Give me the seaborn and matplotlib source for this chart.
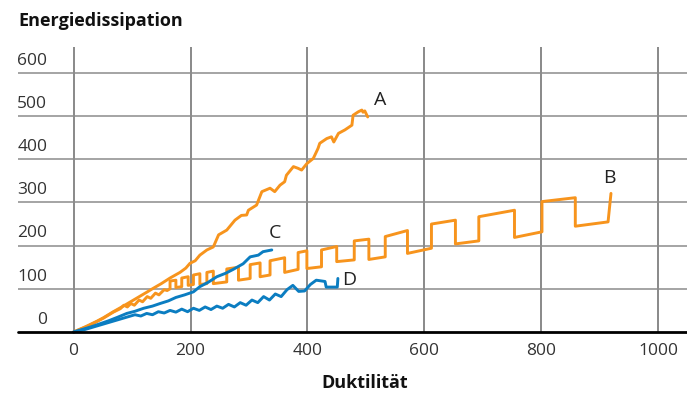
import matplotlib
matplotlib.use("Agg")
import matplotlib.pyplot as plt
import seaborn as sns
import pandas as pd

# ---- data ----
a_x = [0, 20, 40, 51, 68, 85, 100, 110, 125, 136, 150, 165, 182, 192, 199, 208, 216, 228, 239, 248, 262,
       276, 287, 296, 299, 313, 322, 336, 344, 353, 361, 364, 376, 384, 390, 399, 410, 418, 421, 433,
       441, 445, 453, 464, 476, 478, 487, 493, 495, 498, 503]
a_y = [0, 12, 25, 33, 47, 60, 72, 80, 92, 101, 112, 125, 138, 148, 159, 165, 178, 190, 197, 225, 236,
       259, 270, 271, 282, 294, 325, 333, 325, 340, 348, 363, 383, 379, 375, 390, 402, 425, 437, 448,
       452, 440, 460, 468, 479, 502, 510, 514, 509, 512, 498]

b_x = [0, 25, 51, 68, 80, 86, 92, 98, 104, 112, 118, 126, 132, 140, 146, 155, 160,
       165, 165, 175, 175, 185, 185, 196, 196, 205, 205, 216, 216, 228, 228, 239, 239, 262, 262,
       282, 282, 302, 302, 319, 319, 336, 336, 361, 361, 384, 384, 399, 399, 424, 424, 450, 450,
       480, 480, 505, 505, 533, 533, 571, 571, 612, 612, 653, 653, 693, 693, 754, 754, 801, 801,
       858, 858, 914, 919]
b_y = [0, 14, 32, 46, 54, 62, 58, 66, 62, 74, 70, 82, 78, 90, 86, 98, 96,
       100, 118, 120, 103, 105, 125, 128, 108, 110, 132, 135, 110, 112, 138, 141, 112, 116, 146,
       150, 120, 124, 156, 160, 128, 132, 165, 172, 138, 145, 184, 188, 147, 151, 190, 198, 163,
       167, 211, 215, 168, 174, 221, 235, 182, 194, 250, 259, 204, 211, 267, 282, 219, 232, 302,
       311, 245, 255, 321]

c_x = [0, 15, 30, 45, 60, 75, 91, 105, 120, 135, 148, 162, 175, 190, 205, 216, 230, 245, 260, 273,
       290, 302, 316, 324, 339]
c_y = [0, 6, 12, 19, 26, 34, 43, 48, 55, 60, 66, 72, 80, 86, 93, 105, 115, 128, 136, 145,
       158, 174, 178, 186, 190]

d_x = [0, 20, 40, 60, 80, 95, 105, 115, 125, 135, 145, 155, 165, 175, 185, 195, 205, 215, 225,
       235, 245, 255, 265, 275, 285, 295, 305, 315, 325, 335, 345, 355, 365, 375, 385, 395, 405,
       415, 430, 432, 451, 452]
d_y = [0, 6, 14, 22, 30, 36, 40, 37, 43, 40, 47, 44, 50, 46, 53, 47, 55, 50, 58,
       52, 60, 55, 64, 58, 68, 62, 74, 68, 82, 74, 88, 82, 98, 108, 94, 95, 110,
       120, 117, 104, 104, 124]

series_labels = ["A", "B", "C", "D"]
label_x = [524, 917, 344, 471]
label_y = [537, 356, 229, 120]

x_ticks = [0, 200, 400, 600, 800, 1000]
y_ticks = [0, 100, 200, 300, 400, 500, 600]

title_text = "Energiedissipation"
xlabel_text = "Duktilität"

ORANGE = "#F7941D"
BLUE = "#0B7DC1"

# ---- build table ----
frames = []
for name, xs, ys in [("A", a_x, a_y), ("B", b_x, b_y), ("C", c_x, c_y), ("D", d_x, d_y)]:
    frames.append(pd.DataFrame({"series": name, "x": xs, "y": ys}))
df = pd.concat(frames, ignore_index=True)

sns.set_theme(style="white")
plt.rcParams["font.family"] = ["Open Sans", "DejaVu Sans"]

fig = plt.figure(figsize=(6.87, 3.96), dpi=100)
ax = fig.add_axes([18 / 687, 1 - 332 / 396, 1 - 18 / 687, (332 - 47) / 396])

palette = {"A": ORANGE, "B": ORANGE, "C": BLUE, "D": BLUE}
sns.lineplot(data=df, x="x", y="y", hue="series", palette=palette, sort=False,
             estimator=None, legend=False, linewidth=2.1, ax=ax, zorder=3)
for line in ax.get_lines():
    line.set_clip_on(False)
    line.set_solid_joinstyle("round")

ax.set_xlim(-95, 1049)
ax.set_ylim(0, 660)

for s in ax.spines.values():
    s.set_visible(False)

ax.set_xticks(x_ticks)
ax.set_xticklabels([str(v) for v in x_ticks], fontsize=12.5, color="#333333")
ax.set_yticks(y_ticks)
ax.set_yticklabels([])
ax.tick_params(axis="both", length=0)
ax.tick_params(axis="x", pad=8)

ax.grid(False)
for v in x_ticks:
    ax.axvline(v, color="#6a6a6a", linewidth=1.1, zorder=1)
for v in y_ticks[1:]:
    ax.axhline(v, color="#8c8c8c", linewidth=1.1, zorder=1)
ax.axhline(0, color="black", linewidth=2.0, zorder=4, clip_on=False)

for v in y_ticks:
    ax.annotate(str(v), xy=(-45, v), xytext=(0, 3), textcoords="offset points",
                ha="right", va="bottom", fontsize=12.5, color="#333333")

for lab, lx, ly in zip(series_labels, label_x, label_y):
    ax.text(lx, ly, lab, ha="center", va="center", fontsize=14, color="#222222")

ax.set_xlabel("")
ax.set_ylabel("")

fig.text(18 / 687, 1 - 21 / 396, title_text, ha="left", va="center",
         fontsize=13, fontweight="bold", color="#111111")
fig.text(365 / 687, 1 - 383 / 396, xlabel_text, ha="center", va="center",
         fontsize=13, fontweight="bold", color="#111111")

fig.savefig("out.png", dpi=100)
